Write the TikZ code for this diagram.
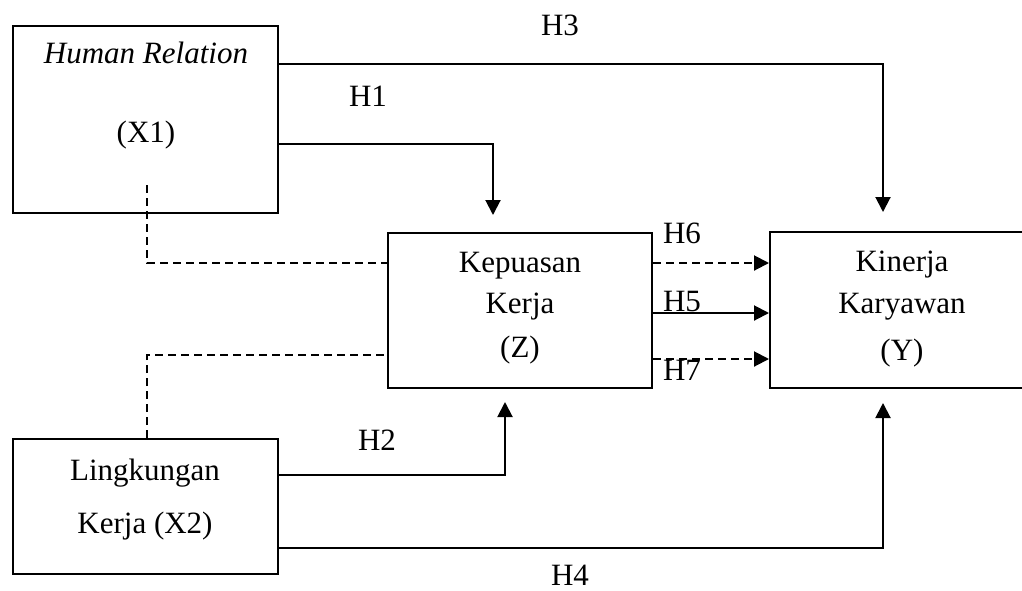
\documentclass[tikz,border=0pt]{standalone}
\usepackage{fontspec}
\setmainfont{Liberation Serif}
\usetikzlibrary{arrows.meta}
\begin{document}
\begin{tikzpicture}[x=1pt,y=-1pt,
  box/.style={draw,line width=2pt,inner sep=0pt},
  lbl/.style={anchor=base,inner sep=0pt,font=\fontsize{31}{36}\selectfont},
  conn/.style={line width=2pt},
  arr/.style={conn,-{Triangle[length=15pt,width=15pt]}},
  dsh/.style={conn,dash pattern=on 8pt off 5pt}]
\clip (0,0) rectangle (1022,590);
\fill[white] (0,0) rectangle (1022,590);
% boxes
\node[box,minimum width=265pt,minimum height=187pt] (X1) at (145.5,119.5) {};
\node[box,minimum width=264pt,minimum height=155pt] (Z) at (520,310.5) {};
\node[box,minimum width=265pt,minimum height=156pt] (Y) at (902.5,310) {};
\node[box,minimum width=265pt,minimum height=135pt] (X2) at (145.5,506.5) {};
% box texts
\node[lbl,font=\fontsize{31}{36}\selectfont\itshape] (t1) at (146,63) {Human Relation};
\node[lbl] (t2) at (146,142) {(X1)};
\node[lbl] (t3) at (520,272) {Kepuasan};
\node[lbl] (t4) at (520,313) {Kerja};
\node[lbl] (t5) at (520,357) {(Z)};
\node[lbl] (t6) at (902,271) {Kinerja};
\node[lbl] (t7) at (902,313) {Karyawan};
\node[lbl] (t8) at (902,360) {(Y)};
\node[lbl] (t9) at (145,480) {Lingkungan};
\node[lbl] (t10) at (145,533) {Kerja (X2)};
% endpoints
\coordinate (h3end) at (883,212);
\coordinate (h1end) at (493,215);
\coordinate (h2end) at (505,402);
\coordinate (h4end) at (883,403);
\coordinate (d1start) at (147,185);
% connectors
\draw[arr] (X1.east |- 0,64) -| (h3end);
\draw[arr] (X1.east |- 0,144) -| (h1end);
\draw[arr] (X2.east |- 0,475) -| (h2end);
\draw[arr] (X2.east |- 0,548) -| (h4end);
\draw[dsh] (d1start) |- (Z.west |- 0,263);
\draw[dsh] (X2.north -| 147,0) |- (Z.west |- 0,355);
\draw[dsh,-{Triangle[length=15pt,width=15pt]}] (Z.east |- 0,263) -- (Y.west |- 0,263);
\draw[arr] (Z.east |- 0,313) -- (Y.west |- 0,313);
\draw[dsh,-{Triangle[length=15pt,width=15pt]}] (Z.east |- 0,359) -- (Y.west |- 0,359);
% labels
\node[lbl] (H3) at (560,35) {H3};
\node[lbl] (H1) at (368,106) {H1};
\node[lbl] (H6) at (682,243) {H6};
\node[lbl] (H5) at (682,311) {H5};
\node[lbl] (H7) at (682,380) {H7};
\node[lbl] (H2) at (377,450) {H2};
\node[lbl] (H4) at (570,585) {H4};
\end{tikzpicture}
\end{document}
